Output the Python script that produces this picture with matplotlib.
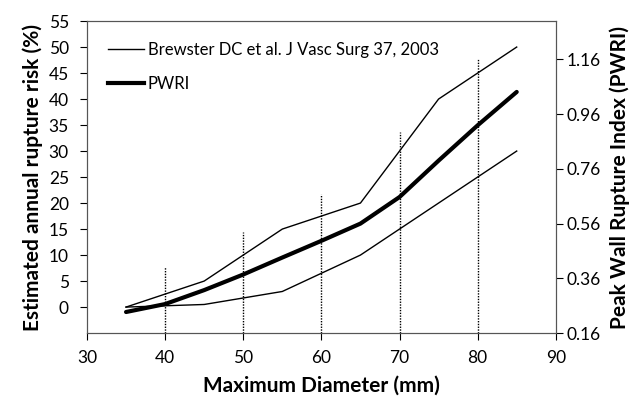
import matplotlib

matplotlib.use("Agg")
import matplotlib.pyplot as plt

plt.rcParams["font.family"] = ["Lato", "DejaVu Sans"]

# Brewster ranges (annual rupture risk %, left axis)
brewster_diam = [35, 45, 55, 65, 75, 85]
brewster_upper = [0, 5, 15, 20, 40, 50]
brewster_lower = [0, 0.5, 3, 10, 20, 30]

# PWRI curve (right axis)
pwri_diam = [35, 40, 45, 50, 55, 60, 65, 70, 75, 80, 85]
pwri_vals = [0.237, 0.266, 0.317, 0.374, 0.436, 0.497, 0.560, 0.657, 0.790, 0.919, 1.041]

# dotted bars (top values on PWRI axis)
bar_diam = [40, 50, 60, 70, 80]
bar_top = [0.402, 0.529, 0.667, 0.895, 1.163]

left_ticks = [0, 5, 10, 15, 20, 25, 30, 35, 40, 45, 50, 55]
right_ticks = [0.16, 0.36, 0.56, 0.76, 0.96, 1.16]
x_ticks = [30, 40, 50, 60, 70, 80, 90]

fig = plt.figure(figsize=(6.33, 3.97), dpi=100)
ax1 = fig.add_axes([0.1374, 0.161, 0.7406, 0.786])
ax2 = ax1.twinx()

ax1.plot(brewster_diam, brewster_upper, color="black", linewidth=1.0,
         label="Brewster DC et al. J Vasc Surg 37, 2003")
ax1.plot(brewster_diam, brewster_lower, color="black", linewidth=1.0)
ax1.plot([], [], color="black", linewidth=3.0, label="PWRI")

ax2.plot(pwri_diam, pwri_vals, color="black", linewidth=3.0,
         solid_capstyle="round", solid_joinstyle="round")
ax2.vlines(bar_diam, 0.16, bar_top, colors="black", linestyles=(0, (1, 1)),
           linewidth=1.0)

ax1.set_xlim(30, 90)
ax1.set_ylim(-5, 55)
ax2.set_ylim(0.16, 1.30)
ax1.set_xticks(x_ticks)
ax1.set_yticks(left_ticks)
ax2.set_yticks(right_ticks)
ax2.set_yticklabels([f"{t:.2f}" for t in right_ticks])

for ax in (ax1, ax2):
    ax.tick_params(direction="out", length=5, width=0.8, labelsize=12.5,
                   colors="black")
    for s in ax.spines.values():
        s.set_color("#555555")
        s.set_linewidth(0.8)
ax1.tick_params(axis="y", pad=8)
ax1.tick_params(axis="x", pad=7)
ax2.tick_params(axis="y", pad=3)

ax1.set_xlabel("Maximum Diameter (mm)", fontsize=15, fontweight="bold",
               labelpad=7)
ax1.set_ylabel("Estimated annual rupture risk (%)", fontsize=15,
               fontweight="bold", labelpad=4)
ax2.set_ylabel("Peak Wall Rupture Index (PWRI)", fontsize=15,
               fontweight="bold", labelpad=6)

ax1.legend(loc="upper left", frameon=False, fontsize=12, handlelength=2.2,
           handletextpad=0.2, labelspacing=1.1, borderaxespad=0.0,
           bbox_to_anchor=(0.03, 0.955))

fig.savefig("out.png", dpi=100)
